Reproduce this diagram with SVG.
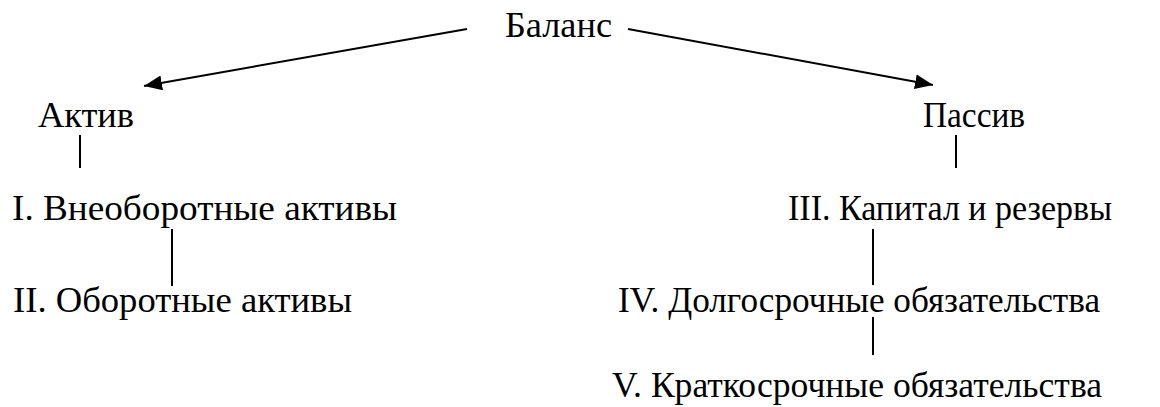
<svg xmlns="http://www.w3.org/2000/svg" width="1160" height="407" viewBox="0 0 1160 407">
  <style>
    .label { font-family: 'Liberation Serif', 'Times New Roman', serif; font-size: 36px; fill: #000; }
    .link { stroke: #000; stroke-width: 2; fill: none; }
  </style>
  <defs>
    <marker id="head" viewBox="0 0 18 15" refX="18" refY="7.5" markerWidth="18" markerHeight="15" markerUnits="userSpaceOnUse" orient="auto">
      <path d="M0,0 L18,7.5 L0,15 z" fill="#000"/>
    </marker>
  </defs>

  <g id="connectors">
    <line class="link" x1="467" y1="29" x2="144" y2="86" marker-end="url(#head)"/>
    <line class="link" x1="628" y1="29" x2="933" y2="85" marker-end="url(#head)"/>
    <line class="link" x1="80" y1="135" x2="80" y2="168"/>
    <line class="link" x1="172" y1="229" x2="172" y2="286"/>
    <line class="link" x1="956" y1="135" x2="956" y2="168"/>
    <line class="link" x1="873" y1="229" x2="873" y2="285"/>
    <line class="link" x1="873" y1="317" x2="873" y2="355"/>
  </g>

  <g class="label">
    <g id="balance"><text x="505" y="37" textLength="107" lengthAdjust="spacingAndGlyphs">Баланс</text></g>
    <g id="assets"><text x="38" y="127" textLength="96" lengthAdjust="spacingAndGlyphs">Актив</text></g>
    <g id="liabilities"><text x="923" y="127" textLength="102" lengthAdjust="spacingAndGlyphs">Пассив</text></g>
    <g id="section-1"><text x="12" y="220" textLength="385" lengthAdjust="spacingAndGlyphs">I. Внеоборотные активы</text></g>
    <g id="section-2"><text x="13" y="312" textLength="339" lengthAdjust="spacingAndGlyphs">II. Оборотные активы</text></g>
    <g id="section-3"><text x="788" y="220" textLength="324" lengthAdjust="spacingAndGlyphs">III. Капитал и резервы</text></g>
    <g id="section-4"><text x="618" y="312" textLength="482" lengthAdjust="spacingAndGlyphs">IV. Долгосрочные обязательства</text></g>
    <g id="section-5"><text x="612" y="397" textLength="490" lengthAdjust="spacingAndGlyphs">V. Краткосрочные обязательства</text></g>
  </g>
</svg>
